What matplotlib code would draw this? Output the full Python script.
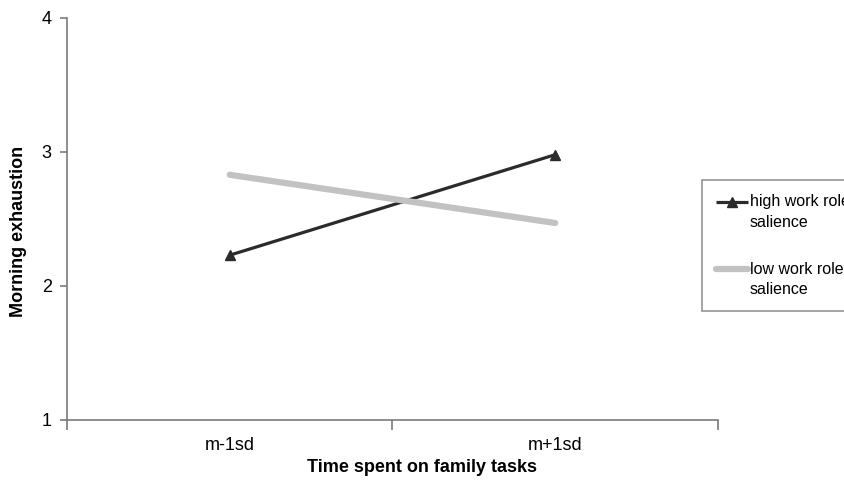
import matplotlib
matplotlib.use('Agg')
import matplotlib.pyplot as plt
from matplotlib.lines import Line2D

plt.rcParams['font.family'] = ['Liberation Sans', 'DejaVu Sans']

# ================= 数据 =================
categories = ['m-1sd', 'm+1sd']
high_role = [2.23, 2.98]
low_role = [2.83, 2.47]
series_labels = ['high work role\nsalience', 'low work role\nsalience']
y_ticks = [1, 2, 3, 4]

AXIS_COLOR = '#7a7a7a'
FS = 13

fig = plt.figure(figsize=(8.45, 4.82), dpi=100)
ax = fig.add_axes([67 / 845, 1 - 420 / 482, (718 - 67) / 845, (420 - 18) / 482])

x = list(range(len(categories)))
ax.plot(x, high_role, color='#2b2b2b', lw=2.3, marker='^', ms=7,
        label=series_labels[0], solid_capstyle='butt')
ax.plot(x, low_role, color='#c2c2c2', lw=4.5,
        label=series_labels[1], solid_capstyle='round')

ax.set_xlim(-0.5, len(categories) - 0.5)
ax.set_ylim(1, 4)

# Excel 风格：刻度在类别之间，标签在类别中间
ax.set_xticks([i - 0.5 for i in range(len(categories) + 1)])
ax.set_xticklabels([])
ax.set_xticks(x, minor=True)
ax.set_xticklabels(categories, minor=True, fontsize=FS)
ax.tick_params(axis='x', which='major', length=7, width=1.2, color=AXIS_COLOR, direction='out')
ax.tick_params(axis='x', which='minor', length=0, pad=12)

ax.set_yticks(y_ticks)
ax.set_yticklabels([str(v) for v in y_ticks], fontsize=FS)
ax.tick_params(axis='y', length=5, width=1.2, color=AXIS_COLOR, pad=6)

for side in ['top', 'right']:
    ax.spines[side].set_visible(False)
for side in ['left', 'bottom']:
    ax.spines[side].set_color(AXIS_COLOR)
    ax.spines[side].set_linewidth(1.2)

ax.set_xlabel('Time spent on family tasks', fontsize=FS, fontweight='bold', va='center')
ax.xaxis.set_label_coords(0.545, -0.117)
ax.set_ylabel('Morning exhaustion', fontsize=FS, fontweight='bold', va='center')
ax.yaxis.set_label_coords(-0.074, 0.47)

leg = fig.legend(loc='upper left', bbox_to_anchor=(702 / 845, 1 - 180 / 482),
                 fontsize=11.5, frameon=True, fancybox=False, handlelength=2.0,
                 handletextpad=0.1, labelspacing=2.0, borderpad=0.9,
                 borderaxespad=0, numpoints=1)
leg.get_frame().set_edgecolor(AXIS_COLOR)
leg.get_frame().set_linewidth(1.2)
for t in leg.get_texts():
    t.set_linespacing(1.45)

# 图例符号对齐到第一行文字
for ln in leg.findobj(Line2D):
    ln.set_ydata([y + 7.5 for y in ln.get_ydata()])

fig.savefig('out.png', dpi=100)
